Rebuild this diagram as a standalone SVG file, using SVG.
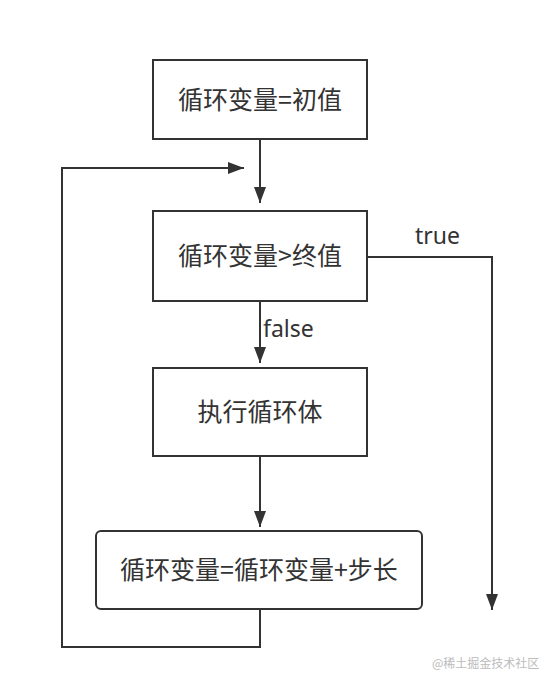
<svg xmlns="http://www.w3.org/2000/svg" width="554" height="687" viewBox="0 0 554 687">
<style>
.box{fill:#fff;stroke:#333;stroke-width:2}
.lbl{font-family:"Noto Sans CJK SC","Microsoft YaHei",sans-serif;font-size:25px;fill:#333;text-anchor:middle}
.edge{fill:none;stroke:#333;stroke-width:2}
.el{font-family:"Noto Sans","Noto Sans CJK SC",sans-serif;font-size:23px;fill:#333}
.wm{font-family:"Noto Sans CJK SC",sans-serif;font-size:12px;fill:#bbb}
</style>
<defs>
<marker id="ah" markerUnits="userSpaceOnUse" markerWidth="16" markerHeight="12" refX="16" refY="6" orient="auto">
<path d="M0,0 L16,6 L0,12 z" fill="#333"/>
</marker>
</defs>
<rect width="554" height="687" fill="#fff"/>
<g id="init"><rect class="box" x="153" y="60" width="214" height="79"/><text class="lbl" x="260" y="109">循环变量=初值</text></g>
<g id="cond"><rect class="box" x="153" y="211" width="214" height="90"/><text class="lbl" x="260" y="265">循环变量&gt;终值</text></g>
<g id="body"><rect class="box" x="153" y="368" width="214" height="88"/><text class="lbl" x="260" y="421">执行循环体</text></g>
<g id="step"><rect class="box" x="96" y="531" width="326" height="78" rx="5"/><text class="lbl" x="259" y="579">循环变量=循环变量+步长</text></g>
<g id="connectors">
<path class="edge" d="M260,139 V203" marker-end="url(#ah)"/>
<path class="edge" d="M260,301 V363" marker-end="url(#ah)"/>
<path class="edge" d="M260,456 V527" marker-end="url(#ah)"/>
<path class="edge" d="M260,609 V647 H62 V168 H244" marker-end="url(#ah)"/>
<path class="edge" d="M367,257 H492 V610" marker-end="url(#ah)"/>
<text class="el" x="415" y="244">true</text>
<text class="el" x="263" y="337">false</text>
</g>
<text class="wm" x="432" y="668">@稀土掘金技术社区</text>
</svg>
